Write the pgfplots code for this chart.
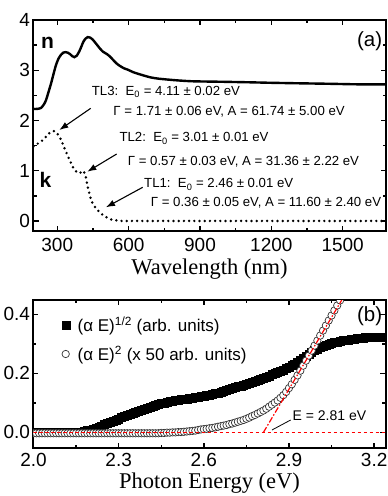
\documentclass[border=0pt]{standalone}
\usepackage{pgfplots}
\pgfplotsset{compat=1.18}
\usepackage{fontspec}
\setmainfont{Liberation Sans}
\newfontfamily\serifx{Liberation Serif}
\usetikzlibrary{arrows.meta}
\newcommand\ann{\fontsize{13.2}{14}\selectfont}
\pgfplotsset{
  common/.style={
    scale only axis, width=352pt,
    axis line style={line width=2pt},
    tick align=inside, xtick pos=both, ytick pos=both,
    xticklabel pos=bottom, yticklabel pos=left,
    major tick length=5pt, minor tick length=3pt,
    every tick/.append style={black, line width=1.4pt},
    minor tick num=1,
    /pgf/number format/assume math mode=true,
    /pgf/number format/1000 sep={},
    tick label style={font=\fontsize{19}{19}\selectfont},
    every axis x label/.style={at={(axis description cs:0.5,0)}, anchor=base,
      font=\serifx\fontsize{22.5}{22.5}\selectfont},
  }
}
\begin{document}
\begin{tikzpicture}
\path[use as bounding box] (-33.5pt,20pt) rectangle (354.5pt,-476pt);
% ---------------- panel (a)
\begin{axis}[common, at={(0,0)}, anchor=north west, height=210.5pt,
  xmin=200, xmax=1680, ymin=-0.19, ymax=4,
  xtick={300,600,900,1200,1500}, ytick={0,1,2,3,4},
  xticklabel style={anchor=base, yshift=-21.3pt},
  xlabel={Wavelength (nm)}, xlabel style={yshift=-44pt},
  clip=false]
\addplot[black, line width=2.4pt, smooth, tension=0.4] coordinates {
(200,2.23) (215,2.23) (232,2.25) (245,2.33) (253,2.41) (264,2.58) (274,2.74)
(285,2.94) (295,3.11) (305,3.23) (316,3.31) (325,3.35) (334,3.36) (344,3.35)
(354,3.32) (363,3.28) (372,3.26) (382,3.29) (393,3.38) (402,3.48) (410,3.57)
(419,3.63) (428,3.66) (438,3.65) (449,3.61) (463,3.53) (478,3.44) (492,3.37)
(506,3.33) (520,3.28) (534,3.21) (548,3.14) (562,3.09) (580,3.04) (597,3.01)
(620,2.96) (646,2.92) (690,2.86) (730,2.83) (800,2.80) (870,2.78) (1000,2.77)
(1108,2.76) (1200,2.75) (1318,2.74) (1450,2.73) (1560,2.72) (1680,2.72)};
\addplot[black, line width=2.7pt, line cap=round, dash pattern=on 0pt off 5.2pt, smooth, tension=0.4] coordinates {
(200,1.48) (215,1.53) (239,1.61) (255,1.69) (267,1.75) (278,1.78) (288,1.79)
(298,1.75) (309,1.68) (320,1.57) (330,1.45) (341,1.33) (351,1.22) (362,1.11)
(372,1.02) (383,0.97) (393,0.95) (400,0.97) (407,1.00) (413,0.97) (418,0.92)
(423,0.80) (428,0.68) (435,0.55) (442,0.42) (452,0.32) (463,0.25) (477,0.18)
(491,0.12) (508,0.07) (526,0.03) (545,0.015) (561,0.005) (580,0) (700,0)
(900,0) (1100,0) (1300,0) (1500,0) (1680,0)};
\node[font=\bfseries\fontsize{21}{21}\selectfont] at (axis cs:259,3.536) {n};
\node[font=\bfseries\fontsize{21}{21}\selectfont] at (axis cs:250,0.815) {k};
\node[anchor=east, font=\fontsize{20.5}{20.5}\selectfont, inner sep=0pt] at (axis cs:1667,3.58) {(a)};
\node[anchor=west, inner sep=0pt, font=\ann] at (axis cs:444.7,2.573) {TL3:\ \ E\textsubscript{0} = 4.11 ± 0.02 eV};
\node[anchor=west, inner sep=0pt, font=\ann] at (axis cs:535.5,2.175) {Γ = 1.71 ± 0.06 eV, A = 61.74 ± 5.00 eV};
\node[anchor=west, inner sep=0pt, font=\ann] at (axis cs:560.8,1.645) {TL2:\ \ E\textsubscript{0} = 3.01 ± 0.01 eV};
\node[anchor=west, inner sep=0pt, font=\ann] at (axis cs:596,1.18) {Γ = 0.57 ± 0.03 eV, A = 31.36 ± 2.22 eV};
\node[anchor=west, inner sep=0pt, font=\ann] at (axis cs:664.6,0.73) {TL1:\ \ E\textsubscript{0} = 2.46 ± 0.01 eV};
\node[anchor=west, inner sep=0pt, font=\ann] at (axis cs:692.8,0.363) {Γ = 0.36 ± 0.05 eV, A = 11.60 ± 2.40 eV};
\draw[-{Latex[length=9pt,width=6.5pt]}, line width=1.1pt] (axis cs:440.5,2.242) -- (axis cs:308.5,1.81);
\draw[-{Latex[length=9pt,width=6.5pt]}, line width=1.1pt] (axis cs:549.8,1.333) -- (axis cs:426.2,0.98);
\draw[-{Latex[length=9pt,width=6.5pt]}, line width=1.1pt] (axis cs:659.1,0.67) -- (axis cs:504.8,0.272);
\end{axis}
% ---------------- panel (b)
\begin{axis}[common, at={(0,-280pt)}, anchor=north west, height=148pt,
  xmin=2.0, xmax=3.24, ymin=-0.053, ymax=0.4485,
  xtick={2.0,2.3,2.6,2.9,3.2}, ytick={0,0.2,0.4},
  xticklabel style={anchor=base, yshift=-18.7pt, /pgf/number format/.cd, fixed, fixed zerofill, precision=1},
  yticklabel style={/pgf/number format/.cd, fixed, fixed zerofill, precision=1},
  xlabel={Photon Energy (eV)}, xlabel style={yshift=-40.3pt},
  clip marker paths=true,
  legend image code/.code={\draw[#1] plot coordinates {(0pt,0pt)}; \path (-4pt,0pt) (9.8pt,0pt);},
  legend style={at={(rel axis cs:0.079,0.903)}, anchor=north west, draw=none, fill=none,
    font=\fontsize{17}{17}\selectfont, row sep=9pt, inner sep=0pt},
  legend cell align=left]
\addplot[only marks, mark=square*, mark size=4pt, mark options={fill=black, draw=black}] table {
x y
2.00 0.000
2.01 0.000
2.02 0.000
2.03 0.000
2.04 0.000
2.05 0.000
2.06 0.000
2.07 0.000
2.08 0.000
2.09 0.000
2.10 0.000
2.11 0.000
2.12 0.000
2.13 0.000
2.14 0.000
2.15 0.000
2.16 0.001
2.17 0.002
2.18 0.004
2.19 0.006
2.20 0.009
2.21 0.012
2.22 0.015
2.23 0.018
2.24 0.022
2.25 0.026
2.26 0.030
2.27 0.034
2.28 0.038
2.29 0.042
2.30 0.046
2.31 0.050
2.32 0.054
2.33 0.058
2.34 0.062
2.35 0.066
2.36 0.069
2.37 0.073
2.38 0.076
2.39 0.080
2.40 0.083
2.41 0.086
2.42 0.089
2.43 0.092
2.44 0.095
2.45 0.098
2.46 0.100
2.47 0.103
2.48 0.105
2.49 0.107
2.50 0.108
2.51 0.110
2.52 0.111
2.53 0.112
2.54 0.114
2.55 0.115
2.56 0.116
2.57 0.118
2.58 0.120
2.59 0.121
2.60 0.123
2.61 0.125
2.62 0.127
2.63 0.129
2.64 0.132
2.65 0.134
2.66 0.137
2.67 0.140
2.68 0.143
2.69 0.146
2.70 0.149
2.71 0.152
2.72 0.155
2.73 0.158
2.74 0.161
2.75 0.164
2.76 0.167
2.77 0.170
2.78 0.173
2.79 0.177
2.80 0.181
2.81 0.184
2.82 0.188
2.83 0.192
2.84 0.196
2.85 0.200
2.86 0.204
2.87 0.208
2.88 0.212
2.89 0.217
2.90 0.222
2.91 0.227
2.92 0.232
2.93 0.238
2.94 0.244
2.95 0.250
2.96 0.257
2.97 0.264
2.98 0.271
2.99 0.277
3.00 0.283
3.01 0.288
3.02 0.292
3.03 0.296
3.04 0.299
3.05 0.302
3.06 0.305
3.07 0.307
3.08 0.309
3.09 0.311
3.10 0.313
3.11 0.314
3.12 0.316
3.13 0.317
3.14 0.318
3.15 0.319
3.16 0.320
3.17 0.321
3.18 0.322
3.19 0.322
3.20 0.323
3.21 0.323
3.22 0.324
3.23 0.324
3.24 0.324
};
\addlegendentry{(α E)\textsuperscript{1/2} (arb. units)}
\addplot[only marks, mark=*, mark size=3.7pt, mark options={fill=white, draw=black!80, line width=0.7pt}] table {
x y
2.00 -0.003
2.01 -0.003
2.02 -0.003
2.03 -0.003
2.04 -0.003
2.05 -0.003
2.06 -0.003
2.07 -0.003
2.08 -0.003
2.09 -0.003
2.10 -0.003
2.11 -0.003
2.12 -0.003
2.13 -0.003
2.14 -0.003
2.15 -0.003
2.16 -0.003
2.17 -0.003
2.18 -0.003
2.19 -0.003
2.20 -0.003
2.21 -0.003
2.22 -0.003
2.23 -0.003
2.24 -0.003
2.25 -0.003
2.26 -0.003
2.27 -0.003
2.28 -0.003
2.29 -0.003
2.30 -0.003
2.31 -0.003
2.32 -0.003
2.33 -0.003
2.34 -0.003
2.35 -0.003
2.36 -0.003
2.37 -0.003
2.38 -0.003
2.39 -0.003
2.40 -0.003
2.41 -0.003
2.42 -0.003
2.43 -0.003
2.44 -0.003
2.45 -0.002
2.46 -0.002
2.47 -0.001
2.48 -0.001
2.49 0.000
2.50 0.000
2.51 0.001
2.52 0.001
2.53 0.002
2.54 0.003
2.55 0.004
2.56 0.005
2.57 0.006
2.58 0.008
2.59 0.010
2.60 0.011
2.61 0.012
2.62 0.014
2.63 0.015
2.64 0.017
2.65 0.019
2.66 0.021
2.67 0.023
2.68 0.025
2.69 0.028
2.70 0.030
2.71 0.033
2.72 0.036
2.73 0.039
2.74 0.042
2.75 0.046
2.76 0.050
2.77 0.055
2.78 0.059
2.79 0.064
2.80 0.069
2.81 0.074
2.82 0.080
2.83 0.087
2.84 0.094
2.85 0.101
2.86 0.108
2.87 0.117
2.88 0.126
2.89 0.137
2.90 0.150
2.91 0.163
2.92 0.178
2.93 0.193
2.94 0.209
2.95 0.226
2.96 0.243
2.97 0.260
2.98 0.277
2.99 0.294
3.00 0.311
3.01 0.328
3.02 0.345
3.03 0.362
3.04 0.379
3.05 0.396
3.06 0.413
3.07 0.430
3.08 0.447
};
\addlegendentry{(α E)\textsuperscript{2} (x 50 arb. units)}
\addplot[red, line width=1.2pt, dash pattern=on 6pt off 2pt on 1.5pt off 2pt, forget plot] coordinates {(2.81,0) (3.086,0.4485)};
\addplot[red, line width=1.2pt, dash pattern=on 3.5pt off 2.5pt, forget plot] coordinates {(2.0,0) (3.24,0)};
\draw[black, line width=0.8pt] (axis cs:2.84,0.008) -- (axis cs:2.906,0.042);
\node[anchor=west, inner sep=0pt, font=\fontsize{14}{14}\selectfont] at (axis cs:2.912,0.056) {E = 2.81 eV};
\node[anchor=east, inner sep=0pt, font=\fontsize{20.5}{20.5}\selectfont] at (axis cs:3.229,0.395) {(b)};
\end{axis}
\end{tikzpicture}
\end{document}
